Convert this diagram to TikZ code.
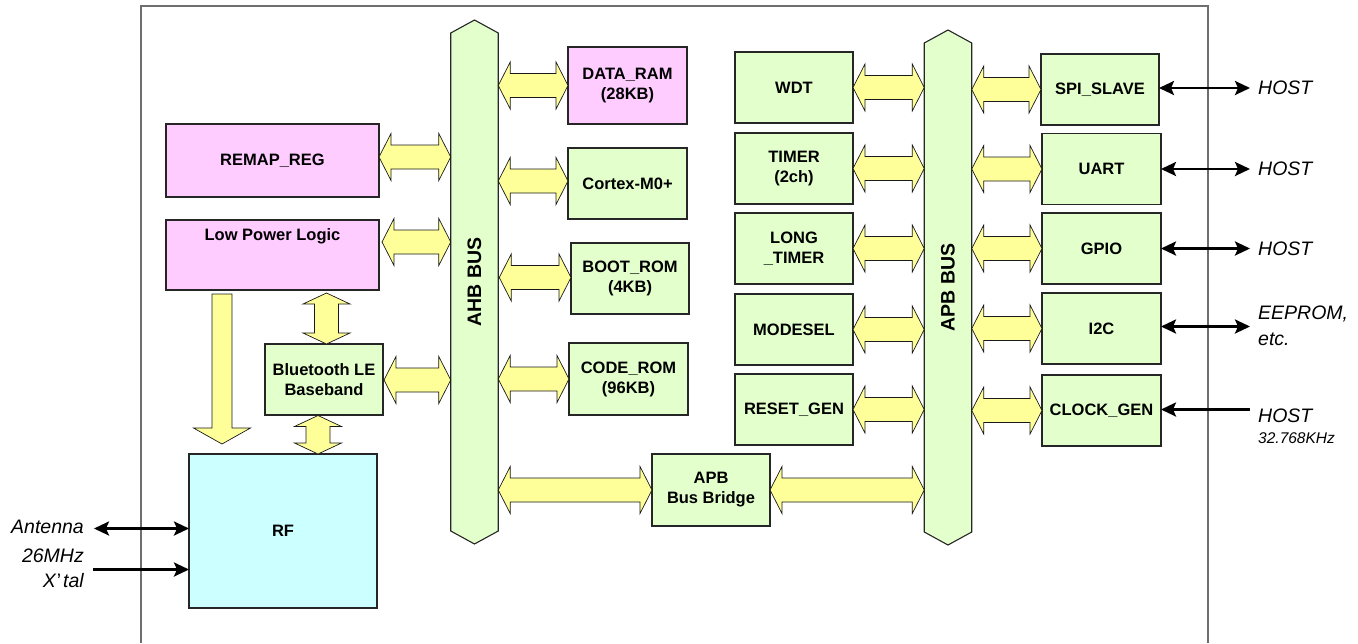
\documentclass[tikz,border=0pt]{standalone}
\usepackage{fontspec}
\setmainfont{Liberation Sans}
\usetikzlibrary{arrows.meta,calc}
\definecolor{bxgreen}{HTML}{E2FFCC}
\definecolor{bxpink}{HTML}{FFCCFF}
\definecolor{bxcyan}{HTML}{CCFFFF}
\definecolor{arrowyellow}{HTML}{FFFF99}
\definecolor{framegray}{HTML}{6E6E6E}
\tikzset{
  blk/.style={draw=black!85, line width=1.1pt, outer sep=0pt, inner sep=0pt, align=center,
              font=\bfseries\fontsize{16.5}{20}\selectfont},
  grn/.style={blk, fill=bxgreen},
  pnk/.style={blk, fill=bxpink},
  cyn/.style={blk, fill=bxcyan},
  wh/.style 2 args={minimum width=#1pt, minimum height=#2pt},
  fatar/.style={draw=black!90, line width=0.7pt, fill=arrowyellow, line join=miter},
  busshape/.style={draw=black!85, line width=1.1pt, fill=bxgreen, line join=miter},
  buslbl/.style={rotate=90, inner sep=0pt, font=\bfseries\fontsize{19.5}{22}\selectfont},
  ext/.style={line width=2.6pt, black},
  extboth/.style={ext, {Stealth[length=15pt,width=14pt,inset=3pt]}-{Stealth[length=15pt,width=14pt,inset=3pt]}},
  extone/.style={ext, -{Stealth[length=15pt,width=14pt,inset=3pt]}},
  lbl/.style={inner sep=0pt, font=\itshape\fontsize{19.5}{24}\selectfont},
  framestyle/.style={draw=framegray, line width=1.3pt}
}
% horizontal fat double arrow from #1 to #2 (y taken from #1)
\newcommand\fatH[2]{%
  \draw[fatar] let \p1=(#1), \p2=(#2), \n1={sign(\x2-\x1)} in
    (\x1,\y1) -- ({\x1+\n1*12pt},{\y1+23.5pt}) -- ({\x1+\n1*12pt},{\y1+12pt})
    -- ({\x2-\n1*12pt},{\y1+12pt}) -- ({\x2-\n1*12pt},{\y1+23.5pt}) -- (\x2,\y1)
    -- ({\x2-\n1*12pt},{\y1-23.5pt}) -- ({\x2-\n1*12pt},{\y1-12pt})
    -- ({\x1+\n1*12pt},{\y1-12pt}) -- ({\x1+\n1*12pt},{\y1-23.5pt}) -- cycle;}
% vertical fat double arrow from #1 to #2 (x taken from #1)
\newcommand\fatV[2]{%
  \draw[fatar] let \p1=(#1), \p2=(#2), \n1={sign(\y2-\y1)} in
    (\x1,\y1) -- ({\x1+23.5pt},{\y1+\n1*11pt}) -- ({\x1+12pt},{\y1+\n1*11pt})
    -- ({\x1+12pt},{\y2-\n1*11pt}) -- ({\x1+23.5pt},{\y2-\n1*11pt}) -- (\x1,\y2)
    -- ({\x1-23.5pt},{\y2-\n1*11pt}) -- ({\x1-12pt},{\y2-\n1*11pt})
    -- ({\x1-12pt},{\y1+\n1*11pt}) -- ({\x1-23.5pt},{\y1+\n1*11pt}) -- cycle;}
% vertical fat single arrow pointing from #1 to #2
\newcommand\fatDown[2]{%
  \draw[fatar] let \p1=(#1), \p2=(#2), \n1={sign(\y2-\y1)} in
    ({\x1-10pt},\y1) -- ({\x1+10pt},\y1) -- ({\x1+10pt},{\y2-\n1*16pt})
    -- ({\x1+28.5pt},{\y2-\n1*16pt}) -- (\x1,\y2) -- ({\x1-28.5pt},{\y2-\n1*16pt})
    -- ({\x1-10pt},{\y2-\n1*16pt}) -- cycle;}
\begin{document}
\begin{tikzpicture}[x=1pt,y=-1pt]
\useasboundingbox (0,0) rectangle (1358,643);
% outer frame
\draw[framestyle] (141,643) -- (141,6) -- (1208,6) -- (1208,643);

% buses
\node[minimum width=47.5pt, minimum height=498pt, inner sep=0pt, outer sep=0pt] (ahb) at (474.5,282) {};
\draw[busshape] (ahb.north west) -- ($(ahb.north)+(0,-13)$) -- (ahb.north east) -- (ahb.south east)
  -- ($(ahb.south)+(0,13)$) -- (ahb.south west) -- cycle;
\node[buslbl] (ahblbl) at (ahb.center) {AHB BUS};
\node[minimum width=47.5pt, minimum height=489pt, inner sep=0pt, outer sep=0pt] (apb) at (948,287.5) {};
\draw[busshape] (apb.north west) -- ($(apb.north)+(0,-13)$) -- (apb.north east) -- (apb.south east)
  -- ($(apb.south)+(0,13)$) -- (apb.south west) -- cycle;
\node[buslbl] (apblbl) at (apb.center) {APB BUS};

% left blocks
\node[pnk, wh={213}{73}] (remap) at (272.5,160.5) {REMAP\_REG};
\node[pnk, wh={213}{70}] (lpl) at (272.5,255) {};
\node[inner sep=0pt, font=\bfseries\fontsize{16.5}{20}\selectfont] (lpltxt) at ($(lpl.north)+(0,16)$) {Low Power Logic};
\node[grn, wh={118}{71}] (bt) at (324,379.5) {Bluetooth LE\\Baseband};
\node[cyn, wh={188}{154}] (rf) at (283,531) {RF};

% AHB slaves
\node[pnk, wh={119}{77}] (ram) at (627.5,85.5) {DATA\_RAM\\(28KB)};
\node[grn, wh={119}{71}] (cpu) at (627.5,183.5) {Cortex-M0+};
\node[grn, wh={118}{71}] (boot) at (630,278.5) {BOOT\_ROM\\(4KB)};
\node[grn, wh={119}{72}] (code) at (628.5,379) {CODE\_ROM\\(96KB)};
\node[grn, wh={118}{72}] (bridge) at (711,490) {APB\\Bus Bridge};

% APB left column
\node[grn, wh={118}{71}] (wdt) at (794,87.5) {WDT};
\node[grn, wh={118}{71}] (timer) at (794,168.5) {TIMER\\(2ch)};
\node[grn, wh={118}{71}] (ltimer) at (794,248.5) {LONG\\\_TIMER};
\node[grn, wh={118}{71}] (modesel) at (794,329.5) {MODESEL};
\node[grn, wh={118}{71}] (resetgen) at (794,409.5) {RESET\_GEN};

% APB right column
\node[grn, wh={118}{71}] (spi) at (1100,89.5) {SPI\_SLAVE};
\node[grn, wh={119}{71}] (uart) at (1101.5,169) {UART};
\node[grn, wh={119}{71}] (gpio) at (1101.5,248.5) {GPIO};
\node[grn, wh={119}{71}] (iic) at (1101.5,328.5) {I2C};
\node[grn, wh={119}{71}] (clkgen) at (1101.5,410.5) {CLOCK\_GEN};

% fat arrows to AHB
\fatH{$(remap.east)+(0,-3.5)$}{$(remap.east -| ahb.west)+(0,-3.5)$}
\fatH{$(lpl.east)+(3,-13)$}{$(lpl.east -| ahb.west)+(0,-13)$}
\fatH{$(bt.east)+(1,0.5)$}{$(bt.east -| ahb.west)+(0,0.5)$}
\fatH{ahb.east |- ram.west}{ram.west}
\fatH{$(ahb.east |- cpu.west)+(0,-2.5)$}{$(cpu.west)+(0,-2.5)$}
\fatH{$(ahb.east |- boot.west)+(1,-1)$}{$(boot.west)+(0,-1)$}
\fatH{ahb.east |- code.west}{code.west}
\fatH{ahb.east |- bridge.west}{bridge.west}
\fatH{bridge.east}{bridge.east -| apb.west}

% fat arrows to APB
\fatH{wdt.east}{wdt.east -| apb.west}
\fatH{timer.east}{timer.east -| apb.west}
\fatH{ltimer.east}{ltimer.east -| apb.west}
\fatH{modesel.east}{modesel.east -| apb.west}
\fatH{resetgen.east}{resetgen.east -| apb.west}
\fatH{apb.east |- spi.west}{spi.west}
\fatH{apb.east |- uart.west}{uart.west}
\fatH{apb.east |- gpio.west}{gpio.west}
\fatH{apb.east |- iic.west}{iic.west}
\fatH{apb.east |- clkgen.west}{clkgen.west}

% vertical fat arrows
\fatV{$(bt.north)+(2.5,-51)$}{$(bt.north)+(2.5,0)$}
\fatV{$(bt.south)+(-6,0.5)$}{$(bt.south |- rf.north)+(-6,0)$}
\coordinate (dtop) at ($(lpl.south west)+(56,4)$);
\coordinate (dbot) at ($(dtop |- rf.north)+(0,-10)$);
\fatDown{dtop}{dbot}

% external connections
\coordinate (hx) at (1250,0);
\draw[extboth] ($(spi.east)+(0,-1.5)$) -- ($(spi.east -| hx)+(0,-1.5)$);
\draw[extboth] (uart.east) -- (uart.east -| hx);
\draw[extboth] (gpio.east) -- (gpio.east -| hx);
\draw[extboth] ($(iic.east)+(0,-2)$) -- ($(iic.east -| hx)+(0,-2)$);
\draw[extone] ($(clkgen.east -| hx)+(0,-1)$) -- ($(clkgen.east)+(0,-1)$);

\node[lbl, anchor=west] (host1) at (1258,88) {HOST};
\node[lbl, anchor=west] (host2) at (1258,168.5) {HOST};
\node[lbl, anchor=west] (host3) at (1258,248.5) {HOST};
\node[lbl, anchor=west] (eeprom) at (1258,314) {EEPROM,};
\node[lbl, anchor=west] (etc) at (1258,339) {etc.};
\node[lbl, anchor=west] (host4) at (1258,416) {HOST};
\node[inner sep=0pt, anchor=west, font=\itshape\fontsize{15.5}{18}\selectfont] (khz) at (1258,438.5) {32.768KHz};

\coordinate (ant) at (94,528.5);
\coordinate (xtl) at (93,569.5);
\draw[extboth] (ant) -- (ant -| rf.west);
\draw[extone] (xtl) -- (xtl -| rf.west);
\node[lbl, anchor=east] (antlbl) at (84,527) {Antenna};
\node[lbl, anchor=east] (mhz) at (84,556) {26MHz};
\node[lbl, anchor=east] (xtal) at (84,581) {X\kern1pt{\upshape’}\kern2pt tal};
\end{tikzpicture}
\end{document}
